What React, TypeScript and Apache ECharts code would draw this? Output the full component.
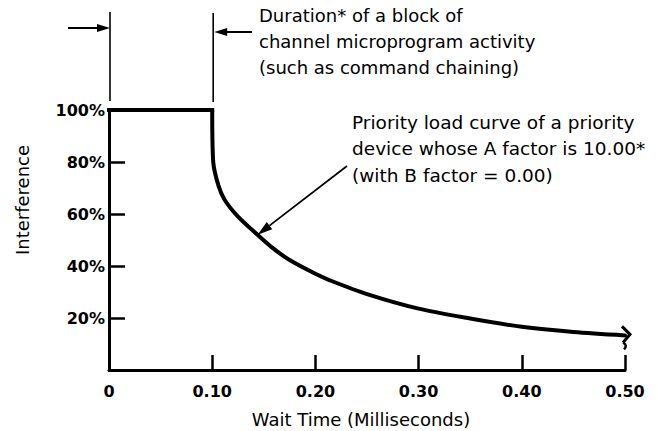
import React, { useEffect, useRef } from "react";
import * as echarts from "echarts";

// Block of channel microprogram activity (flat 100% segment)
const blockTimes = [0, 0.1];
const blockValues = [100, 100];

// Priority load curve after the block
const waitTimes = [0.1, 0.101, 0.106, 0.112, 0.125, 0.144, 0.16, 0.175, 0.2, 0.214, 0.25, 0.3, 0.35, 0.4, 0.45, 0.5];
const interference = [100, 80, 71, 65.5, 59, 52, 46.5, 42.3, 37, 34.5, 29.2, 23.6, 19.8, 16.6, 14.6, 13.3];

// Tick labels
const xTickValues = [0, 0.1, 0.2, 0.3, 0.4, 0.5];
const xTickLabels = ["0", "0.10", "0.20", "0.30", "0.40", "0.50"];
const yTickValues = [0, 20, 40, 60, 80, 100];
const yTickLabels = ["", "20%", "40%", "60%", "80%", "100%"];

// Annotation anchors (data coordinates)
const pointerTime = 0.144;
const pointerValue = 52;

const xAxisTitle = "Wait Time (Milliseconds)";
const yAxisTitle = "Interference";
const durationNote = ["Duration* of a block of", "channel microprogram activity", "(such as command chaining)"];
const curveNote = ["Priority load curve of a priority", "device whose A factor is 10.00*", "(with B factor = 0.00)"];

const FONT = "DejaVu Sans";

function lookup(values: number[], labels: string[], v: number): string {
  for (let i = 0; i < values.length; i++) {
    if (Math.abs(values[i] - v) < 1e-6) return labels[i];
  }
  return "";
}

export default function App() {
  const ref = useRef<HTMLDivElement>(null);

  useEffect(() => {
    if (!ref.current) return;
    const chart = echarts.init(ref.current, undefined, { renderer: "svg" });
    chart.setOption({
      animation: false,
      backgroundColor: "#ffffff",
      grid: { left: 109, right: 32, top: 110, bottom: 61, containLabel: false },
      xAxis: {
        type: "value",
        min: 0,
        max: 0.5,
        interval: 0.1,
        axisLine: { show: true, onZero: false, lineStyle: { color: "#000", width: 3 } },
        axisTick: { show: true, inside: true, length: 15, lineStyle: { color: "#000", width: 2.5 } },
        splitLine: { show: false },
        axisLabel: {
          color: "#000",
          fontFamily: FONT,
          fontWeight: "bold",
          fontSize: 16,
          margin: 13,
          formatter: (v: number) => lookup(xTickValues, xTickLabels, v),
        },
      },
      yAxis: {
        type: "value",
        min: 0,
        max: 100,
        interval: 20,
        axisLine: { show: true, onZero: false, lineStyle: { color: "#000", width: 3 } },
        axisTick: { show: true, inside: true, length: 16, lineStyle: { color: "#000", width: 2.5 } },
        splitLine: { show: false },
        axisLabel: {
          color: "#000",
          fontFamily: FONT,
          fontWeight: "bold",
          fontSize: 16,
          margin: 4,
          formatter: (v: number) => lookup(yTickValues, yTickLabels, v),
        },
      },
      series: [
        {
          type: "line",
          data: blockTimes.map((t, i) => [t, blockValues[i]]),
          symbol: "none",
          lineStyle: { color: "#000", width: 4, cap: "square", join: "miter" },
          z: 5,
        },
        {
          type: "line",
          data: waitTimes.map((t, i) => [t, interference[i]]),
          symbol: "none",
          smooth: 0.3,
          lineStyle: { color: "#000", width: 4, cap: "round", join: "round" },
          z: 5,
        },
      ],
    });

    const p = (x: number, y: number) => chart.convertToPixel({ gridIndex: 0 }, [x, y]) as number[];
    const origin = p(0, 100);
    const blockEnd = p(blockTimes[1], 100);
    const tip = p(pointerTime, pointerValue);
    const last = p(waitTimes[waitTimes.length - 1], interference[interference.length - 1]);

    const x0 = origin[0] + 1;
    const xb = blockEnd[0] + 1;

    const leaderStart = [347, 166];
    const dx = tip[0] - leaderStart[0];
    const dy = tip[1] - leaderStart[1];
    const len = Math.sqrt(dx * dx + dy * dy);
    const ux = dx / len;
    const uy = dy / len;
    const ah = 15;
    const aw = 4.5;
    const base = [tip[0] - ux * ah, tip[1] - uy * ah];

    const black = { stroke: "#000", fill: "none" };

    chart.setOption({
      graphic: [
        // extension lines
        { type: "line", shape: { x1: x0, y1: 12, x2: x0, y2: 101 }, style: { ...black, lineWidth: 1.6 } },
        { type: "line", shape: { x1: xb, y1: 13, x2: xb, y2: 102 }, style: { ...black, lineWidth: 1.6 } },
        // left dimension arrow
        { type: "line", shape: { x1: 68, y1: 28, x2: x0 - 8, y2: 28 }, style: { ...black, lineWidth: 2 } },
        { type: "polygon", shape: { points: [[x0, 28], [x0 - 13, 24], [x0 - 13, 32]] }, style: { fill: "#000" } },
        // right dimension arrow
        { type: "line", shape: { x1: xb + 8, y1: 32, x2: 252, y2: 32 }, style: { ...black, lineWidth: 2 } },
        { type: "polygon", shape: { points: [[xb + 1, 32], [xb + 14, 28], [xb + 14, 36]] }, style: { fill: "#000" } },
        // notes
        {
          type: "text",
          x: 259,
          y: 2,
          style: { text: durationNote.join("\n"), fill: "#000", fontFamily: FONT, fontSize: 18, lineHeight: 26, align: "left", verticalAlign: "top" },
        },
        {
          type: "text",
          x: 352,
          y: 109,
          style: { text: curveNote.join("\n"), fill: "#000", fontFamily: FONT, fontSize: 18.5, lineHeight: 26.5, align: "left", verticalAlign: "top" },
        },
        // leader arrow to the curve
        { type: "line", shape: { x1: leaderStart[0], y1: leaderStart[1], x2: base[0], y2: base[1] }, style: { ...black, lineWidth: 1.8 } },
        {
          type: "polygon",
          shape: {
            points: [
              [tip[0], tip[1]],
              [base[0] - uy * aw, base[1] + ux * aw],
              [base[0] + uy * aw, base[1] - ux * aw],
            ],
          },
          style: { fill: "#000" },
        },
        // arrow at end of curve
        {
          type: "polyline",
          shape: { points: [[last[0] - 3, last[1] - 9], [last[0] + 5, last[1] - 1], [last[0] - 2, last[1] + 7]] },
          style: { ...black, lineWidth: 3 },
        },
        {
          type: "bezierCurve",
          shape: { x1: last[0] - 2, y1: last[1] + 7, cpx1: last[0] + 3, cpy1: last[1] + 10, x2: last[0] - 1, y2: last[1] + 14 },
          style: { ...black, lineWidth: 2.5 },
        },
        // axis titles
        {
          type: "text",
          x: 361,
          y: 419,
          style: { text: xAxisTitle, fill: "#000", fontFamily: FONT, fontSize: 18, align: "center", verticalAlign: "middle" },
        },
        {
          type: "text",
          x: 22,
          y: 200,
          rotation: Math.PI / 2,
          style: { text: yAxisTitle, fill: "#000", fontFamily: FONT, fontSize: 18, align: "center", verticalAlign: "middle" },
        },
      ],
    });

    return () => chart.dispose();
  }, []);

  return <div ref={ref} style={{ position: "fixed", left: 0, top: 0, width: 657, height: 431 }} />;
}
